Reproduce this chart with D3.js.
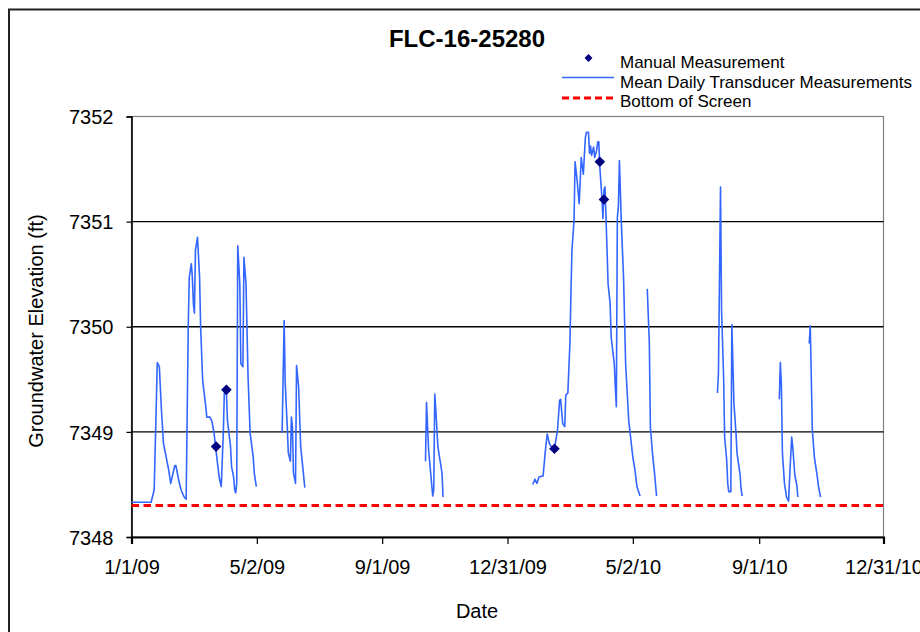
<!DOCTYPE html>
<html>
<head>
<meta charset="utf-8">
<script src="https://cdn.jsdelivr.net/npm/d3@7"></script>
<style>
  html, body { margin: 0; padding: 0; background: #fff; }
  svg { display: block; }
  text { font-family: Arial, "Liberation Sans", sans-serif; fill: #000; }
</style>
</head>
<body>
<svg id="chart" width="920" height="632"></svg>
<script>
// ---------------- DATA ----------------
const chartTitle = "FLC-16-25280";
const xTickDates = ["2009-01-01T00:00", "2009-05-02T12:00", "2009-09-01T00:00", "2009-12-31T12:00",
                    "2010-05-02T00:00", "2010-09-01T12:00", "2010-12-31T00:00"];
const xTickLabels = ["1/1/09", "5/2/09", "9/1/09", "12/31/09", "5/2/10", "9/1/10", "12/31/10"];
const yTickValues = [7348, 7349, 7350, 7351, 7352];

// Mean daily transducer record (null = gap in record)
const transducerDates = [
  "2009-01-01","2009-01-20","2009-01-23","2009-01-26","2009-01-28","2009-01-30","2009-02-01","2009-02-06",
  "2009-02-08","2009-02-12","2009-02-13","2009-02-16","2009-02-18","2009-02-21","2009-02-23","2009-02-25",
  "2009-02-26","2009-02-28","2009-03-01","2009-03-02","2009-03-03","2009-03-04","2009-03-06","2009-03-08",
  "2009-03-09","2009-03-11","2009-03-14","2009-03-15","2009-03-18","2009-03-20","2009-03-22","2009-03-25",
  "2009-03-27","2009-03-29","2009-03-31","2009-04-01","2009-04-03","2009-04-04","2009-04-07","2009-04-08",
  "2009-04-10","2009-04-11","2009-04-12","2009-04-13","2009-04-14","2009-04-16","2009-04-17","2009-04-19",
  "2009-04-20","2009-04-22","2009-04-24","2009-04-26","2009-04-29","2009-04-30","2009-05-02",
  "2009-05-15",
  "2009-05-27","2009-05-29","2009-05-30","2009-06-01","2009-06-02","2009-06-04","2009-06-05","2009-06-06",
  "2009-06-07","2009-06-09","2009-06-10","2009-06-12","2009-06-14","2009-06-16","2009-06-18",
  "2009-08-01",
  "2009-10-13","2009-10-14","2009-10-16","2009-10-18","2009-10-20","2009-10-21","2009-10-22","2009-10-23",
  "2009-10-25","2009-10-29","2009-10-30",
  "2009-12-01",
  "2010-01-25","2010-01-27","2010-01-29","2010-01-31","2010-02-03","2010-02-04","2010-02-06","2010-02-08",
  "2010-02-10","2010-02-12","2010-02-15","2010-02-18","2010-02-20","2010-02-21","2010-02-23","2010-02-25",
  "2010-02-26","2010-02-28","2010-03-02","2010-03-03","2010-03-04","2010-03-06","2010-03-07","2010-03-09",
  "2010-03-11","2010-03-12","2010-03-13","2010-03-15","2010-03-17","2010-03-18","2010-03-20","2010-03-21",
  "2010-03-22","2010-03-23","2010-03-25","2010-03-26","2010-03-28","2010-03-29","2010-03-30","2010-03-31",
  "2010-04-02","2010-04-03","2010-04-04","2010-04-05","2010-04-07","2010-04-08","2010-04-10","2010-04-11",
  "2010-04-14","2010-04-15","2010-04-16","2010-04-17","2010-04-18","2010-04-19","2010-04-21","2010-04-23",
  "2010-04-25","2010-04-28","2010-05-02","2010-05-04","2010-05-06","2010-05-09",
  "2010-05-12",
  "2010-05-16","2010-05-18","2010-05-19","2010-05-21","2010-05-23","2010-05-25",
  "2010-06-20",
  "2010-07-23","2010-07-24","2010-07-26","2010-07-27","2010-07-29","2010-07-30","2010-08-01","2010-08-02",
  "2010-08-03","2010-08-05","2010-08-06","2010-08-08","2010-08-10","2010-08-11","2010-08-14","2010-08-15",
  "2010-08-16",
  "2010-09-01",
  "2010-09-21","2010-09-22","2010-09-23","2010-09-24","2010-09-26","2010-09-28","2010-09-30","2010-10-01",
  "2010-10-03","2010-10-04","2010-10-06","2010-10-08","2010-10-09",
  "2010-10-15",
  "2010-10-20","2010-10-21","2010-10-22","2010-10-23","2010-10-25","2010-10-28","2010-10-29","2010-10-31"
];
const transducerLevels = [
  7348.33,7348.33,7348.45,7349.66,7349.62,7349.21,7348.89,7348.64,
  7348.51,7348.68,7348.68,7348.53,7348.45,7348.38,7348.36,7350.00,
  7350.47,7350.60,7350.47,7350.22,7350.13,7350.73,7350.85,7350.47,
  7350.00,7349.49,7349.24,7349.14,7349.14,7349.10,7348.99,7348.73,
  7348.57,7348.48,7348.99,7349.37,7349.37,7349.11,7348.86,7348.67,
  7348.57,7348.45,7348.42,7348.51,7350.77,7350.41,7349.65,7349.62,
  7350.66,7350.41,7349.52,7348.99,7348.76,7348.61,7348.48,
  null,
  7348.99,7350.06,7349.46,7349.05,7348.80,7348.72,7349.14,7349.05,
  7348.61,7348.51,7349.63,7349.43,7348.86,7348.67,7348.47,
  null,
  7348.72,7349.28,7348.83,7348.61,7348.39,7348.45,7349.36,7349.21,
  7348.86,7348.61,7348.38,
  null,
  7348.50,7348.55,7348.51,7348.57,7348.58,7348.58,7348.80,7348.98,
  7348.89,7348.86,7348.84,7349.02,7349.30,7349.31,7349.08,7349.05,
  7349.35,7349.37,7349.84,7350.32,7350.73,7351.01,7351.57,7351.39,
  7351.17,7351.39,7351.61,7351.45,7351.80,7351.85,7351.85,7351.65,
  7351.72,7351.63,7351.71,7351.61,7351.68,7351.76,7351.76,7351.52,
  7351.23,7351.03,7351.30,7351.33,7350.73,7350.41,7350.22,7349.90,
  7349.65,7349.43,7349.24,7351.04,7351.14,7351.58,7350.95,7350.47,
  7349.65,7349.11,7348.76,7348.64,7348.48,7348.39,
  null,
  7350.36,7349.84,7349.05,7348.80,7348.61,7348.39,
  null,
  7349.37,7349.56,7351.33,7350.16,7349.52,7348.95,7348.73,7348.51,
  7348.43,7348.43,7350.02,7349.27,7348.99,7348.80,7348.59,7348.45,
  7348.39,
  null,
  7349.31,7349.66,7349.45,7348.80,7348.51,7348.38,7348.34,7348.57,
  7348.95,7348.86,7348.59,7348.49,7348.38,
  null,
  7349.84,7350.01,7349.52,7349.02,7348.76,7348.56,7348.48,7348.38
];

const manualDates = ["2009-03-24", "2009-04-03", "2010-02-15", "2010-03-31", "2010-04-04"];
const manualLevels = [7348.86, 7349.40, 7348.84, 7351.57, 7351.21];

const bottomOfScreen = 7348.30;
const xDomain = ["2009-01-01T00:00", "2010-12-31T00:00"];
const yDomain = [7348, 7352];

const legendLabels = ["Manual Measurement", "Mean Daily Transducer Measurements", "Bottom of Screen"];

// ---------------- DRAWING ----------------
const parse = s => new Date(s.length === 10 ? s + "T00:00:00Z" : s + ":00Z");
const svg = d3.select("#chart");
const FONT = 'Arial, "Liberation Sans", sans-serif';

const blue = "#3366ff";
const navy = "#000080";
const red = "#ff0000";

const plot = { left: 131.5, right: 883.5, top: 116.5, bottom: 537 };

const x = d3.scaleUtc().domain(xDomain.map(parse)).range([plot.left, plot.right]);
const y = d3.scaleLinear().domain(yDomain).range([plot.bottom, plot.top]);

svg.append("rect").attr("width", 920).attr("height", 632).attr("fill", "#fff");

// outer chart border
svg.append("rect")
  .attr("x", 9).attr("y", 9.5).attr("width", 940).attr("height", 660)
  .attr("fill", "none").attr("stroke", "#222").attr("stroke-width", 2);

// plot area border (top/right grey)
svg.append("rect")
  .attr("x", plot.left).attr("y", plot.top)
  .attr("width", plot.right - plot.left).attr("height", plot.bottom - plot.top)
  .attr("fill", "none").attr("stroke", "#808080").attr("stroke-width", 1.2);

// horizontal grid lines
svg.append("g").selectAll("line")
  .data(yTickValues.filter(v => v > yDomain[0] && v < yDomain[1]))
  .join("line")
  .attr("x1", plot.left).attr("x2", plot.right)
  .attr("y1", d => y(d)).attr("y2", d => y(d))
  .attr("stroke", "#000").attr("stroke-width", 1.3);

// Y axis
const yAxis = d3.axisLeft(y).tickValues(yTickValues).tickFormat(d3.format("d")).tickSize(5).tickPadding(13);
const gy = svg.append("g").attr("transform", `translate(${plot.left},0)`).call(yAxis);
gy.select(".domain").attr("stroke", "#000").attr("stroke-width", 1.6);
gy.selectAll(".tick line").attr("stroke", "#000").attr("stroke-width", 1.2);
gy.selectAll(".tick text").attr("font-family", FONT).attr("font-size", 20).attr("fill", "#000").attr("dy", "0.36em");

// X axis
const xAxis = d3.axisBottom(x).tickValues(xTickDates.map(parse))
  .tickFormat((d, i) => xTickLabels[i]).tickSize(7).tickPadding(16);
const gx = svg.append("g").attr("transform", `translate(0,${plot.bottom})`).call(xAxis);
gx.select(".domain").attr("stroke", "#000").attr("stroke-width", 2.2);
gx.selectAll(".tick line").attr("stroke", "#000").attr("stroke-width", 1.2);
gx.selectAll(".tick text").attr("font-family", FONT).attr("font-size", 20).attr("fill", "#000");

// Bottom of screen (dashed red)
svg.append("line")
  .attr("x1", plot.left).attr("x2", plot.right)
  .attr("y1", y(bottomOfScreen)).attr("y2", y(bottomOfScreen))
  .attr("stroke", red).attr("stroke-width", 3).attr("stroke-dasharray", "7.5,4.5");

// Transducer line
const series = transducerDates.map((d, i) => ({ date: parse(d), v: transducerLevels[i] }));
const line = d3.line().defined(d => d.v !== null).x(d => x(d.date)).y(d => y(d.v));
svg.append("path").datum(series)
  .attr("d", line).attr("fill", "none").attr("stroke", blue)
  .attr("stroke-width", 1.6).attr("stroke-linejoin", "round");

// Manual measurements (diamonds)
const diamond = d3.symbol().type(d3.symbolDiamond2).size(72);
svg.append("g").selectAll("path")
  .data(manualDates.map((d, i) => ({ date: parse(d), v: manualLevels[i] })))
  .join("path")
  .attr("d", diamond)
  .attr("transform", d => `translate(${x(d.date)},${y(d.v)})`)
  .attr("fill", navy);

// Title
svg.append("text").attr("x", 467).attr("y", 47).attr("text-anchor", "middle")
  .attr("font-size", 24).attr("font-weight", "bold").text(chartTitle);

// Axis titles
svg.append("text").attr("x", 477).attr("y", 618).attr("text-anchor", "middle")
  .attr("font-size", 20).text("Date");
svg.append("text").attr("transform", "translate(43,331) rotate(-90)").attr("text-anchor", "middle")
  .attr("font-size", 20).text("Groundwater Elevation (ft)");

// Legend
const lg = svg.append("g");
const legendY = [61, 81, 100.5];
lg.append("path").attr("d", d3.symbol().type(d3.symbolDiamond2).size(40))
  .attr("transform", `translate(588.5,${legendY[0] - 3})`).attr("fill", navy);
lg.append("line").attr("x1", 562).attr("x2", 614).attr("y1", legendY[1] - 3.5).attr("y2", legendY[1] - 3.5)
  .attr("stroke", blue).attr("stroke-width", 1.6);
lg.append("line").attr("x1", 562).attr("x2", 614).attr("y1", legendY[2] - 2.5).attr("y2", legendY[2] - 2.5)
  .attr("stroke", red).attr("stroke-width", 3).attr("stroke-dasharray", "7,4");
lg.selectAll("text").data(legendLabels).join("text")
  .attr("x", 620).attr("y", (d, i) => legendY[i] + 6.5)
  .attr("font-size", 17).text(d => d);
</script>
</body>
</html>
